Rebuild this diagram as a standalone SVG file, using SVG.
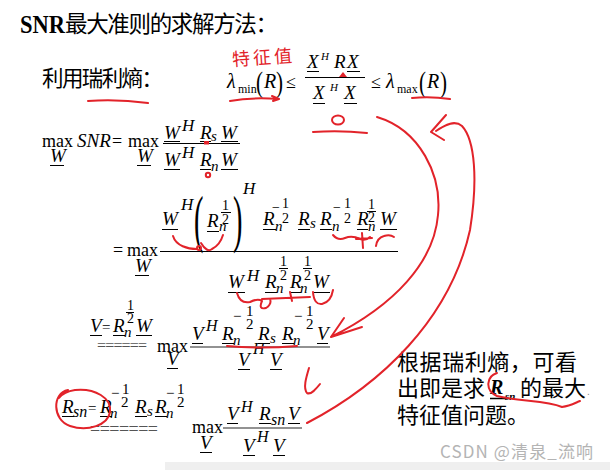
<svg xmlns="http://www.w3.org/2000/svg" width="610" height="470" viewBox="0 0 610 470">
<style>
text{fill:#000}
.cn{font-family:"Noto Sans CJK SC",sans-serif}
.i{font-family:"Liberation Serif",serif;font-style:italic;font-size:19px}
.s{font-family:"Liberation Serif",serif;font-style:italic;font-size:15px}
.d{font-family:"Liberation Serif",serif;font-size:14px}
.m{font-family:"Liberation Serif",serif;font-size:18px}
.ul{stroke:#000;stroke-width:1;fill:none}
.fg{stroke:#6e6e6e;stroke-width:1.6;fill:none}
.eq{font-family:"Liberation Serif",serif;fill:#555}
.an{fill:none;stroke:#e2232a;stroke-width:2;stroke-linecap:round;stroke-linejoin:round}
</style>
<rect width="610" height="470" fill="#fff"/>
<rect x="165" y="462" width="445" height="8" fill="#efefef"/>

<g id="title">
<text x="20" y="33" style="font-family:'Liberation Serif',serif;font-weight:bold;font-size:25px" textLength="45" lengthAdjust="spacingAndGlyphs">SNR</text>
<text class="cn" x="65" y="32" style="font-size:22.5px" textLength="213">最大准则的求解方法：</text>
</g>

<g id="rayleigh">
<text class="cn" x="42" y="86" style="font-size:21.5px" textLength="121">利用瑞利熵：</text>
<text class="i" x="227" y="88" style="font-size:20px">λ</text>
<text class="m" x="238" y="93" style="font-size:12px">min</text>
<text class="m" transform="translate(256,92) scale(0.7,1)" style="font-size:30px">(</text>
<text class="i" x="264" y="88" style="font-size:20px">R</text>
<text class="m" transform="translate(276,92) scale(0.7,1)" style="font-size:30px">)</text>
<text class="m" x="286" y="88">≤</text>
<text class="i" x="307" y="68">X</text>
<text class="s" x="321" y="60" style="font-size:11px">H</text>
<text class="i" x="334" y="68">R</text>
<text class="i" x="347" y="68">X</text>
<text class="i" x="313" y="99">X</text>
<text class="s" x="330" y="91" style="font-size:11px">H</text>
<text class="i" x="344" y="99">X</text>
<path class="ul" d="M307,71.5H319 M347,71.5H360 M313,103.5H325 M344,103.5H357 M305,77.5H365"/>
<text class="m" x="371" y="88">≤</text>
<text class="i" x="386" y="88" style="font-size:20px">λ</text>
<text class="m" x="397" y="93" style="font-size:12px">max</text>
<text class="m" transform="translate(419,92) scale(0.7,1)" style="font-size:30px">(</text>
<text class="i" x="427" y="88" style="font-size:20px">R</text>
<text class="m" transform="translate(440,92) scale(0.7,1)" style="font-size:30px">)</text>
</g>

<g id="eq1">
<text class="m" x="42" y="147">max</text>
<text class="i" x="50" y="162">W</text>
<text class="i" x="77" y="147">SNR</text>
<text class="m" x="112" y="147">=</text>
<text class="m" x="128" y="147">max</text>
<text class="i" x="137" y="162">W</text>
<text class="i" x="164" y="139">W</text>
<text class="s" x="182" y="131" style="font-size:17px">H</text>
<text class="i" x="200" y="139">R</text>
<text class="s" x="211" y="141">s</text>
<text class="i" x="221" y="139">W</text>
<text class="i" x="164" y="166">W</text>
<text class="s" x="182" y="158" style="font-size:17px">H</text>
<text class="i" x="200" y="166">R</text>
<text class="s" x="211" y="171">n</text>
<text class="i" x="221" y="166">W</text>
<path class="ul" d="M50,165.5H64 M137,165.5H151 M164,141.5H180 M200,141.5H211 M221,141.5H238 M164,169.5H180 M200,169.5H211 M221,169.5H238 M163,143.5H240"/>
</g>

<g id="eq2">
<text class="m" x="113" y="256">=</text>
<text class="m" x="127" y="256">max</text>
<text class="i" x="135" y="272">W</text>
<text class="i" x="162" y="225">W</text>
<text class="s" x="181" y="210" style="font-size:17px">H</text>
<text class="m" transform="translate(194,240) scale(0.45,1)" style="font-size:63px">(</text>
<text class="i" x="207" y="227">R</text>
<text class="s" x="219" y="231">n</text>
<text class="d" x="222" y="210">1</text>
<text class="d" x="222" y="224">2</text>
<text class="m" transform="translate(233,240) scale(0.45,1)" style="font-size:63px">)</text>
<text class="s" x="243" y="194" style="font-size:17px">H</text>
<text class="i" x="263" y="225">R</text>
<text class="s" x="275" y="231">n</text>
<text class="d" x="272" y="212">−</text>
<text class="d" x="282" y="208">1</text>
<text class="d" x="282" y="223">2</text>
<text class="i" x="298" y="225">R</text>
<text class="s" x="310" y="228">s</text>
<text class="i" x="320" y="225">R</text>
<text class="s" x="332" y="231">n</text>
<text class="d" x="333" y="212">−</text>
<text class="d" x="344" y="208">1</text>
<text class="d" x="344" y="223">2</text>
<text class="i" x="357" y="225">R</text>
<text class="s" x="368" y="231">n</text>
<text class="d" x="368" y="209">1</text>
<text class="d" x="368" y="222">2</text>
<text class="i" x="380" y="225">W</text>
<text class="i" x="228" y="288">W</text>
<text class="s" x="247" y="281" style="font-size:17px">H</text>
<text class="i" x="265" y="288">R</text>
<text class="s" x="276" y="293">n</text>
<text class="d" x="280" y="266">1</text>
<text class="d" x="280" y="280">2</text>
<text class="i" x="290" y="288">R</text>
<text class="s" x="300" y="293">n</text>
<text class="d" x="304" y="266">1</text>
<text class="d" x="304" y="280">2</text>
<text class="i" x="313" y="288">W</text>
<path class="ul" d="M135,275.5H149 M160,251.5H398 M221,212.5H231 M367,211.5H376 M279,268.5H288 M303,268.5H312 M162,229.5H178 M207,231.5H219 M263,229.5H276 M298,229.5H310 M320,229.5H332 M357,229.5H368 M380,229.5H397 M228,292.5H245 M265,292.5H277 M290,292.5H301 M313,292.5H330"/>
</g>

<g id="eq3">
<text class="i" x="90" y="332">V</text>
<text class="m" x="102" y="332" style="font-size:15px">=</text>
<text class="i" x="113" y="332">R</text>
<text class="s" x="124" y="337">n</text>
<text class="d" x="127" y="310">1</text>
<text class="d" x="127" y="323">2</text>
<text class="i" x="136" y="332">W</text>
<text class="eq" x="97" y="351" style="font-size:16px" textLength="50">======</text>
<text class="m" x="157" y="352">max</text>
<text class="i" x="167" y="365">V</text>
<text class="i" x="192" y="340">V</text>
<text class="s" x="206" y="331" style="font-size:16px">H</text>
<text class="i" x="222" y="340">R</text>
<text class="s" x="233" y="345">n</text>
<text class="d" x="233" y="321" style="font-size:15px">−</text>
<text class="d" x="246" y="316" style="font-size:15px">1</text>
<text class="d" x="246" y="329" style="font-size:15px">2</text>
<text class="i" x="258" y="340">R</text>
<text class="s" x="270" y="343">s</text>
<text class="i" x="282" y="340">R</text>
<text class="s" x="293" y="345">n</text>
<text class="d" x="294" y="321" style="font-size:15px">−</text>
<text class="d" x="306" y="316" style="font-size:15px">1</text>
<text class="d" x="306" y="329" style="font-size:15px">2</text>
<text class="i" x="317" y="340">V</text>
<text class="i" x="238" y="366">V</text>
<text class="s" x="253" y="354" style="font-size:16px">H</text>
<text class="i" x="270" y="366">V</text>
<path class="ul" d="M126,312.5H134 M90,335.5H102 M113,335.5H125 M136,335.5H152 M167,368.5H178 M192,343.5H203 M222,343.5H234 M258,343.5H270 M282,343.5H294 M317,343.5H328 M238,369.5H250 M270,369.5H282"/>
<path class="fg" d="M190,347H330"/>
</g>

<g id="eq4">
<text class="i" x="62" y="413">R</text>
<text class="s" x="73" y="417" style="font-size:16px">sn</text>
<text class="m" x="88" y="413" style="font-size:15px">=</text>
<text class="i" x="100" y="413">R</text>
<text class="s" x="110" y="418">n</text>
<text class="d" x="111" y="398" style="font-size:15px">−</text>
<text class="d" x="122" y="394" style="font-size:15px">1</text>
<text class="d" x="121" y="407" style="font-size:15px">2</text>
<text class="i" x="135" y="413">R</text>
<text class="s" x="147" y="416">s</text>
<text class="i" x="155" y="413">R</text>
<text class="s" x="166" y="418">n</text>
<text class="d" x="166" y="398" style="font-size:15px">−</text>
<text class="d" x="177" y="394" style="font-size:15px">1</text>
<text class="d" x="177" y="407" style="font-size:15px">2</text>
<text class="eq" x="90" y="435" style="font-size:18px" textLength="68">=======</text>
<text class="m" x="192" y="433">max</text>
<text class="i" x="200" y="449">V</text>
<text class="i" x="227" y="420">V</text>
<text class="s" x="241" y="412" style="font-size:16px">H</text>
<text class="i" x="259" y="420">R</text>
<text class="s" x="271" y="425" style="font-size:16px">sn</text>
<text class="i" x="288" y="420">V</text>
<text class="i" x="243" y="452">V</text>
<text class="s" x="257" y="442" style="font-size:16px">H</text>
<text class="i" x="273" y="452">V</text>
<path class="ul" d="M62,416.5H74 M100,416.5H112 M135,416.5H147 M155,416.5H167 M200,452.5H212 M227,423.5H238 M259,423.5H271 M288,423.5H300 M243,455.5H255 M273,455.5H285"/>
<path class="fg" d="M223,428H302"/>
</g>

<g id="note">
<text class="cn" x="397" y="370" style="font-size:22px" textLength="180">根据瑞利熵，可看</text>
<text class="cn" x="397" y="396" style="font-size:22px">出即是求</text>
<text x="490" y="394" style="font-family:'Liberation Serif',serif;font-weight:bold;font-style:italic;font-size:20px">R</text>
<text x="505" y="400" style="font-family:'Liberation Serif',serif;font-weight:bold;font-style:italic;font-size:11px">sn</text>
<path d="M490,398.5H507" stroke="#000" stroke-width="1.5"/>
<text class="cn" x="520" y="396" style="font-size:22px">的最大</text>
<text x="587" y="395" style="font-family:'Liberation Sans',sans-serif;font-size:10px;fill:#888">.</text>
<text class="cn" x="397" y="423" style="font-size:22px">特征值问题。</text>
</g>

<g id="watermark">
<text x="440" y="458" style="font-family:'Noto Sans CJK SC',sans-serif;font-size:17px;fill:#b4b4b4" textLength="153">CSDN @清泉_流响</text>
</g>

<g id="annotations">
<text x="232" y="64" style="font-family:'Noto Sans CJK SC',sans-serif;font-size:18px;fill:#e2232a" textLength="60" transform="rotate(-4 262 58)">特征值</text>
<path class="an" d="M88,101 Q118,99 148,103"/>
<path class="an" d="M230,101 Q252,97 278,99 M272,96 L279,99 L273,101"/>
<path class="an" d="M412,98 Q430,96 450,99"/>
<polygon points="339,77 343,72 347,77" fill="#e2232a"/>
<ellipse class="an" cx="338" cy="120" rx="6" ry="4.5"/>
<path class="an" d="M313,132 Q340,130 367,133"/>
<rect x="204" y="141" width="5" height="3.5" fill="#e2232a"/>
<circle class="an" cx="208" cy="175" r="2.2" stroke-width="1.6"/>
<path class="an" d="M173,236 C176,246 188,249 197,249 M201,243 Q207,253 212,249 Q220,245 223,235"/>
<circle class="an" cx="199" cy="248" r="2" stroke-width="1.6"/>
<path class="an" d="M333,235 Q338,241 345,238 Q352,235 360,239 Q366,241 370,237 M362,233 L363,248 M356,239 L372,238 M376,246 Q377,238 384,236 Q390,234 394,237"/>
<path class="an" d="M237,293 Q240,304 250,302 Q258,298 262,301 Q258,310 266,308 Q272,304 270,299 M262,299 L310,297 M290,292 L292,301 M313,292 Q314,305 322,304 Q331,302 333,290"/>
<path class="an" d="M377,117 C420,130 442,175 438,215 C434,262 395,305 331,337 M331,337 L344,318 M331,337 L362,327"/>
<path class="an" d="M307,423 C380,385 450,320 470,230 C478,180 475,140 462,126 C455,120 446,124 436,131 M446,115 L431,132 L444,140"/>
<path class="an" d="M227,346 Q260,349 297,346"/>
<path class="an" d="M309,368 C306,378 303,388 307,393 C311,395 316,389 320,384"/>
<path class="an" d="M68,390 C52,393 52,420 70,426 C88,432 108,425 110,412 C112,398 95,388 75,390 C68,391 62,394 59,398"/>
<path class="an" d="M497,373 C487,376 484,390 497,396 C520,402 545,400 562,407 C570,406 575,403 580,401"/>
</g>
</svg>
